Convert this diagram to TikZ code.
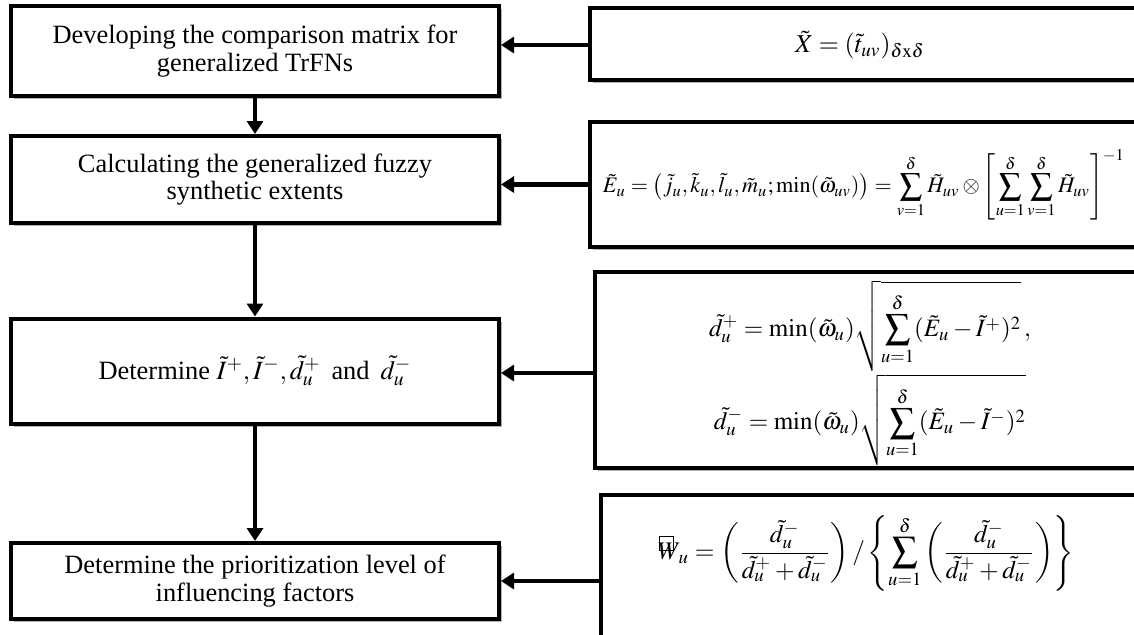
\documentclass[tikz,border=0pt]{standalone}
\usepackage{amsmath,amssymb}
\usepackage{mathptmx}
\usepackage{graphicx}
\usepackage{fontspec}
\setmainfont{Liberation Serif}
\usetikzlibrary{arrows.meta,shadows}
\tikzset{
  shadowed/.style={drop shadow={shadow xshift=1.6pt, shadow yshift=-1.6pt, fill=black!55, opacity=0.55}},
  stepbox/.style={draw, line width=2pt, fill=white, minimum width=244pt, align=center,
    font=\fontsize{13.2}{13.6}\selectfont, shadowed},
  formbox/.style={draw, line width=2pt, fill=white, shadowed},
  formula/.style={inner sep=0pt},
  arr/.style={line width=2.2pt, -{Triangle[length=6.5pt,width=8pt]}}
}
\begin{document}
\begin{tikzpicture}[x=0.5pt,y=-0.5pt]
\useasboundingbox (0,0) rectangle (1134,634);
\clip (0,0) rectangle (1134,634);
% left process boxes
\node[stepbox, minimum height=45pt] (b1) at (255,51) {Developing the comparison matrix for\\generalized TrFNs};
\node[stepbox, minimum height=43.5pt] (b2) at (255,179.5) {Calculating the generalized fuzzy\\synthetic extents};
\node[stepbox, minimum height=52.5pt] (b3) at (255,371) {Determine $\tilde{I}^{+},\tilde{I}^{-},\tilde{d}_u^{+}$ \,and\, $\tilde{d}_u^{-}$};
\node[stepbox, minimum height=38pt] (b4) at (255,581) {Determine the prioritization level of\\influencing factors};
% right formula boxes
\node[formbox, minimum width=305pt, minimum height=36pt] (r1) at (895,44) {};
\node[formbox, minimum width=305pt, minimum height=62.5pt] (r2) at (895,184.5) {};
\node[formbox, minimum width=302.5pt, minimum height=98pt] (r3) at (897.5,370) {};
\node[formbox, minimum width=299.5pt, minimum height=102.5pt] (r4) at (900.5,597.5) {};
% formulas
\node[formula] (f1) at (860,45) {\resizebox{65pt}{!}{$\tilde{X}=(\tilde{t}_{uv})_{\delta\mathrm{x}\delta}$}};
\node[formula] (f2) at (864,185) {\resizebox{261pt}{!}{$\displaystyle \tilde{E}_u=\left(\tilde{j}_u,\tilde{k}_u,\tilde{l}_u,\tilde{m}_u;\min(\tilde{\omega}_{uv})\right)=\sum_{v=1}^{\delta}\tilde{H}_{uv}\otimes\left[\sum_{u=1}^{\delta}\sum_{v=1}^{\delta}\tilde{H}_{uv}\right]^{-1}$}};
\node[formula] (f3) at (870,373) {\resizebox{161pt}{!}{$\begin{gathered}
\displaystyle\tilde{d}_u^{+}=\min(\tilde{\omega}_u)\sqrt{\sum_{u=1}^{\delta}(\tilde{E}_u-\tilde{I}^{+})^2}\,,\\[-3pt]
\displaystyle\tilde{d}_u^{-}=\min(\tilde{\omega}_u)\sqrt{\sum_{u=1}^{\delta}(\tilde{E}_u-\tilde{I}^{-})^2}
\end{gathered}$}};
\node[formula] (f4) at (866,553) {\resizebox{208pt}{!}{$\displaystyle \makebox[0pt][l]{\hspace{0.05em}\raisebox{0.35em}{\setlength{\fboxsep}{0pt}\setlength{\fboxrule}{0.4pt}\fbox{\rule{0pt}{0.55em}\hspace{0.5em}}}}W_{\,u}=\left(\frac{\tilde{d}_u^{-}}{\tilde{d}_u^{+}+\tilde{d}_u^{-}}\right)/\left\{\sum_{u=1}^{\delta}\left(\frac{\tilde{d}_u^{-}}{\tilde{d}_u^{+}+\tilde{d}_u^{-}}\right)\right\}$}};
% vertical connectors
\draw[arr] (b1) -- (b2);
\draw[arr] (b2) -- (b3);
\draw[arr] (b3) -- (b4);
% horizontal connectors
\draw[arr] (r1.west |- f1) -- (b1.east |- f1);
\draw[arr] (r2.west) -- (r2.west -| b2.east);
\draw[arr] (r3.west |- f3) -- (b3.east |- f3);
\draw[arr] (r4.west |- b4.east) -- (b4.east);
\end{tikzpicture}
\end{document}
